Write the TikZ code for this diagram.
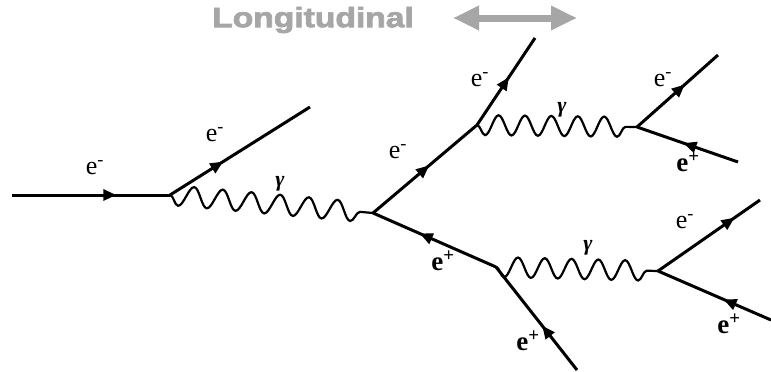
\documentclass[tikz,border=0pt]{standalone}
\usepackage{fontspec}
\setmainfont{Liberation Serif}
\newfontfamily\titlefont{Liberation Sans Bold}[FakeBold=2.5]
\usepackage{graphicx}
\usetikzlibrary{arrows.meta, positioning, decorations.pathmorphing, decorations.markings}

\begin{document}
\begin{tikzpicture}[
  x=1pt, y=-1pt,
  fermion/.style={line width=3pt, postaction={decorate},
    decoration={markings, mark=at position #1 with {\arrow{Triangle[length=13pt,width=11pt]}}}},
  fermion/.default=0.5,
  photon/.style={line width=2.2pt, decorate,
    decoration={snake, amplitude=10pt, segment length=#1, mirror}},
  photon/.default=28pt,
  elab/.style={font=\fontsize{26}{26}\selectfont, inner sep=0pt},
  poslab/.style={font=\fontsize{27}{27}\selectfont\bfseries, inner sep=0pt},
  gamlab/.style={font=\fontsize{22}{22}\selectfont\bfseries\itshape, inner sep=0pt},
  title/.style={font=\titlefont\fontsize{28}{28}\selectfont, text=black!35, inner sep=0pt},
  dir/.style={line width=7pt, black!35, {Triangle[length=26pt,width=23pt]}-{Triangle[length=26pt,width=23pt]}},
]
  \useasboundingbox (0,0) rectangle (771,372);

  % vertices
  \coordinate (vA) at (170,195);
  \coordinate (vB) at (373,213);
  \coordinate (vC) at (477,125);
  \coordinate (vD) at (637,127);
  \coordinate (vE) at (496,267);
  \coordinate (vF) at (658,271);

  % free ends
  \coordinate (in) at (12,195);
  \coordinate (outA) at (310,107);
  \coordinate (outC) at (535,38);
  \coordinate (outDe) at (718,55);
  \coordinate (outDp) at (738,162);
  \coordinate (outEp) at (577,370);
  \coordinate (outFe) at (760,200);
  \coordinate (outFp) at (771,320);

  \draw[fermion=0.66] (in) -- (vA);
  \draw[fermion=0.38] (vA) -- (outA);
  \draw[photon=28.8pt] (vA) -- (vB);

  \draw[fermion=0.54] (vB) -- (vC);
  \draw[fermion=0.62] (vE) -- (vB);

  \draw[fermion=0.55] (vC) -- (outC);
  \draw[photon=26.4pt] (vC) -- (vD);
  \draw[fermion=0.59] (vD) -- (outDe);
  \draw[fermion=0.54] (outDp) -- (vD);

  \draw[fermion=0.43] (outEp) -- (vE);
  \draw[photon=26.8pt] (vE) -- (vF);
  \draw[fermion=0.75] (vF) -- (outFe);
  \draw[fermion=0.42] (outFp) -- (vF);

  % labels
  \node[elab] (lin) at (95,168) {e\textsuperscript{-}};
  \node[elab] (lA) at (215,135) {e\textsuperscript{-}};
  \node[gamlab] (gAB) at (280,184) {γ};
  \node[elab] (lBC) at (398,152) {e\textsuperscript{-}};
  \node[elab] (lC) at (480,80) {e\textsuperscript{-}};
  \node[gamlab] (gCD) at (562,110) {γ};
  \node[elab] (lDe) at (663,80) {e\textsuperscript{-}};
  \node[poslab] (lDp) at (688,162) {e\textsuperscript{+}};
  \node[poslab] (lBE) at (443,261) {e\textsuperscript{+}};
  \node[poslab] (lEp) at (528,341) {e\textsuperscript{+}};
  \node[gamlab] (gEF) at (588,248) {γ};
  \node[elab] (lFe) at (685,222) {e\textsuperscript{-}};
  \node[poslab] (lFp) at (729,324) {e\textsuperscript{+}};

  % direction
  \node[title] (long) at (313,20) {\scalebox{1.2}[1]{Longitudinal}};
  \coordinate (dirL) at (453,18);
  \coordinate (dirR) at (577,18);
  \draw[dir] (dirL) -- (dirR);
\end{tikzpicture}
\end{document}
